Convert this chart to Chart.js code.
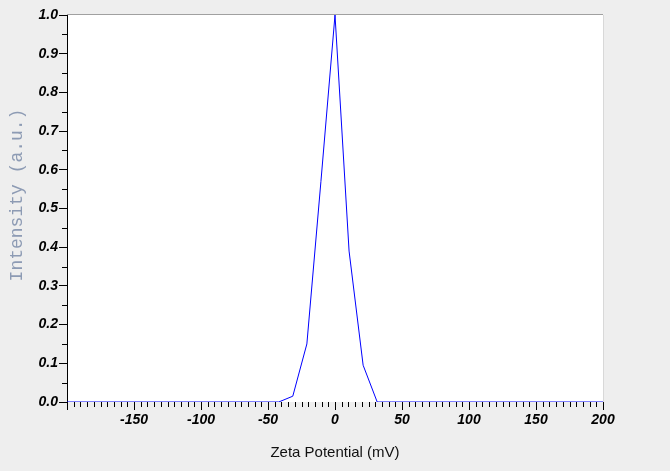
<!DOCTYPE html>
<html>
<head>
<meta charset="utf-8">
<title>Zeta Potential Distribution</title>
<script src="https://cdn.jsdelivr.net/npm/chart.js@4.4.1/dist/chart.umd.min.js"></script>
<style>
    html, body { margin: 0; padding: 0; background: #eeeeee; }
    #chartBox { width: 670px; height: 471px; position: relative; }
</style>
</head>
<body>
<div id="chartBox"><canvas id="zetaChart"></canvas></div>
<script>
// Data
const zetaMv = [-200, -42, -31.5, -21, -10.5, 0, 10.5, 21, 31.5, 42, 200];
const intensity = [0, 0, 0.015, 0.15, 0.57, 1.0, 0.39, 0.095, 0, 0, 0];
const xTicks = [-200, -150, -100, -50, 0, 50, 100, 150, 200];
const yTicks = [0, 0.1, 0.2, 0.3, 0.4, 0.5, 0.6, 0.7, 0.8, 0.9, 1.0];

const xTitle = 'Zeta Potential (mV)';
const yTitle = 'Intensity (a.u.)';

const tickFont = { family: '"Liberation Sans", Arial, sans-serif', size: 14, style: 'italic', weight: 'bold' };

// White plot area, frame, minor ticks and the rotated y title
const framePlugin = {
    id: 'frame',
    beforeDraw: function(chart) {
        const { ctx, chartArea: a } = chart;
        ctx.save();
        ctx.fillStyle = '#ffffff';
        ctx.fillRect(a.left, a.top, a.right - a.left, a.bottom - a.top);
        ctx.restore();
    },
    afterDraw: function(chart) {
        const { ctx, chartArea: a } = chart;
        const xs = chart.scales.x;
        const ys = chart.scales.y;
        ctx.save();
        // top and right border
        ctx.lineWidth = 1;
        ctx.strokeStyle = '#a0a0a0';
        ctx.beginPath();
        ctx.moveTo(a.left, Math.round(a.top) - 0.5);
        ctx.lineTo(a.right, Math.round(a.top) - 0.5);
        ctx.stroke();
        ctx.strokeStyle = '#d8d8d8';
        ctx.beginPath();
        ctx.moveTo(Math.round(a.right) + 0.5, a.top);
        ctx.lineTo(Math.round(a.right) + 0.5, a.bottom);
        ctx.stroke();

        // minor ticks
        ctx.strokeStyle = '#000000';
        ctx.beginPath();
        for (let v = -200; v <= 200; v += 5) {
            if (v % 50 === 0) continue;
            const px = Math.round(xs.getPixelForValue(v)) + 0.5;
            ctx.moveTo(px, a.bottom);
            ctx.lineTo(px, a.bottom + 5);
        }
        for (let i = 0; i <= 20; i++) {
            if (i % 2 === 0) continue;
            const py = Math.round(ys.getPixelForValue(i * 0.05)) + 0.5;
            ctx.moveTo(a.left - 5, py);
            ctx.lineTo(a.left, py);
        }
        ctx.stroke();

        // y title
        ctx.translate(17, 195);
        ctx.rotate(-Math.PI / 2);
        ctx.font = '18px "Liberation Mono", "Courier New", monospace';
        ctx.fillStyle = '#8d9bb4';
        ctx.textAlign = 'center';
        ctx.textBaseline = 'middle';
        ctx.fillText(yTitle, 0, 0);
        ctx.restore();
    }
};

const chart = new Chart(document.getElementById('zetaChart'), {
    type: 'line',
    data: {
        datasets: [{
            data: zetaMv.map((x, i) => ({ x: x, y: intensity[i] })),
            borderColor: '#0000ff',
            borderWidth: 1,
            pointRadius: 0,
            tension: 0,
            fill: false
        }]
    },
    options: {
        responsive: true,
        maintainAspectRatio: false,
        animation: false,
        events: [],
        layout: { padding: { top: 15, right: 67, left: 0, bottom: 0 } },
        plugins: { legend: { display: false }, tooltip: { enabled: false } },
        scales: {
            x: {
                type: 'linear',
                min: -200,
                max: 200,
                afterFit: s => { s.height = 69; },
                afterBuildTicks: s => { s.ticks = xTicks.map(v => ({ value: v })); },
                border: { display: false },
                grid: { drawOnChartArea: false, tickLength: 8, color: '#000000' },
                ticks: {
                    font: tickFont,
                    color: '#000000',
                    padding: 2,
                    maxRotation: 0,
                    autoSkip: false,
                    callback: v => (v === -200 ? '' : String(v))
                },
                title: {
                    display: true,
                    text: xTitle,
                    color: '#111111',
                    font: { family: '"Liberation Sans", Arial, sans-serif', size: 15 },
                    padding: { top: 0, bottom: 9 }
                }
            },
            y: {
                type: 'linear',
                min: 0,
                max: 1,
                afterFit: s => { s.width = 67; },
                afterBuildTicks: s => { s.ticks = yTicks.map(v => ({ value: v })); },
                border: { display: true, color: '#000000', width: 1 },
                grid: { drawOnChartArea: false, tickLength: 8, color: '#000000' },
                ticks: {
                    font: tickFont,
                    color: '#000000',
                    padding: 1,
                    autoSkip: false,
                    callback: v => v.toFixed(1)
                }
            }
        }
    },
    plugins: [framePlugin]
});
</script>
</body>
</html>
